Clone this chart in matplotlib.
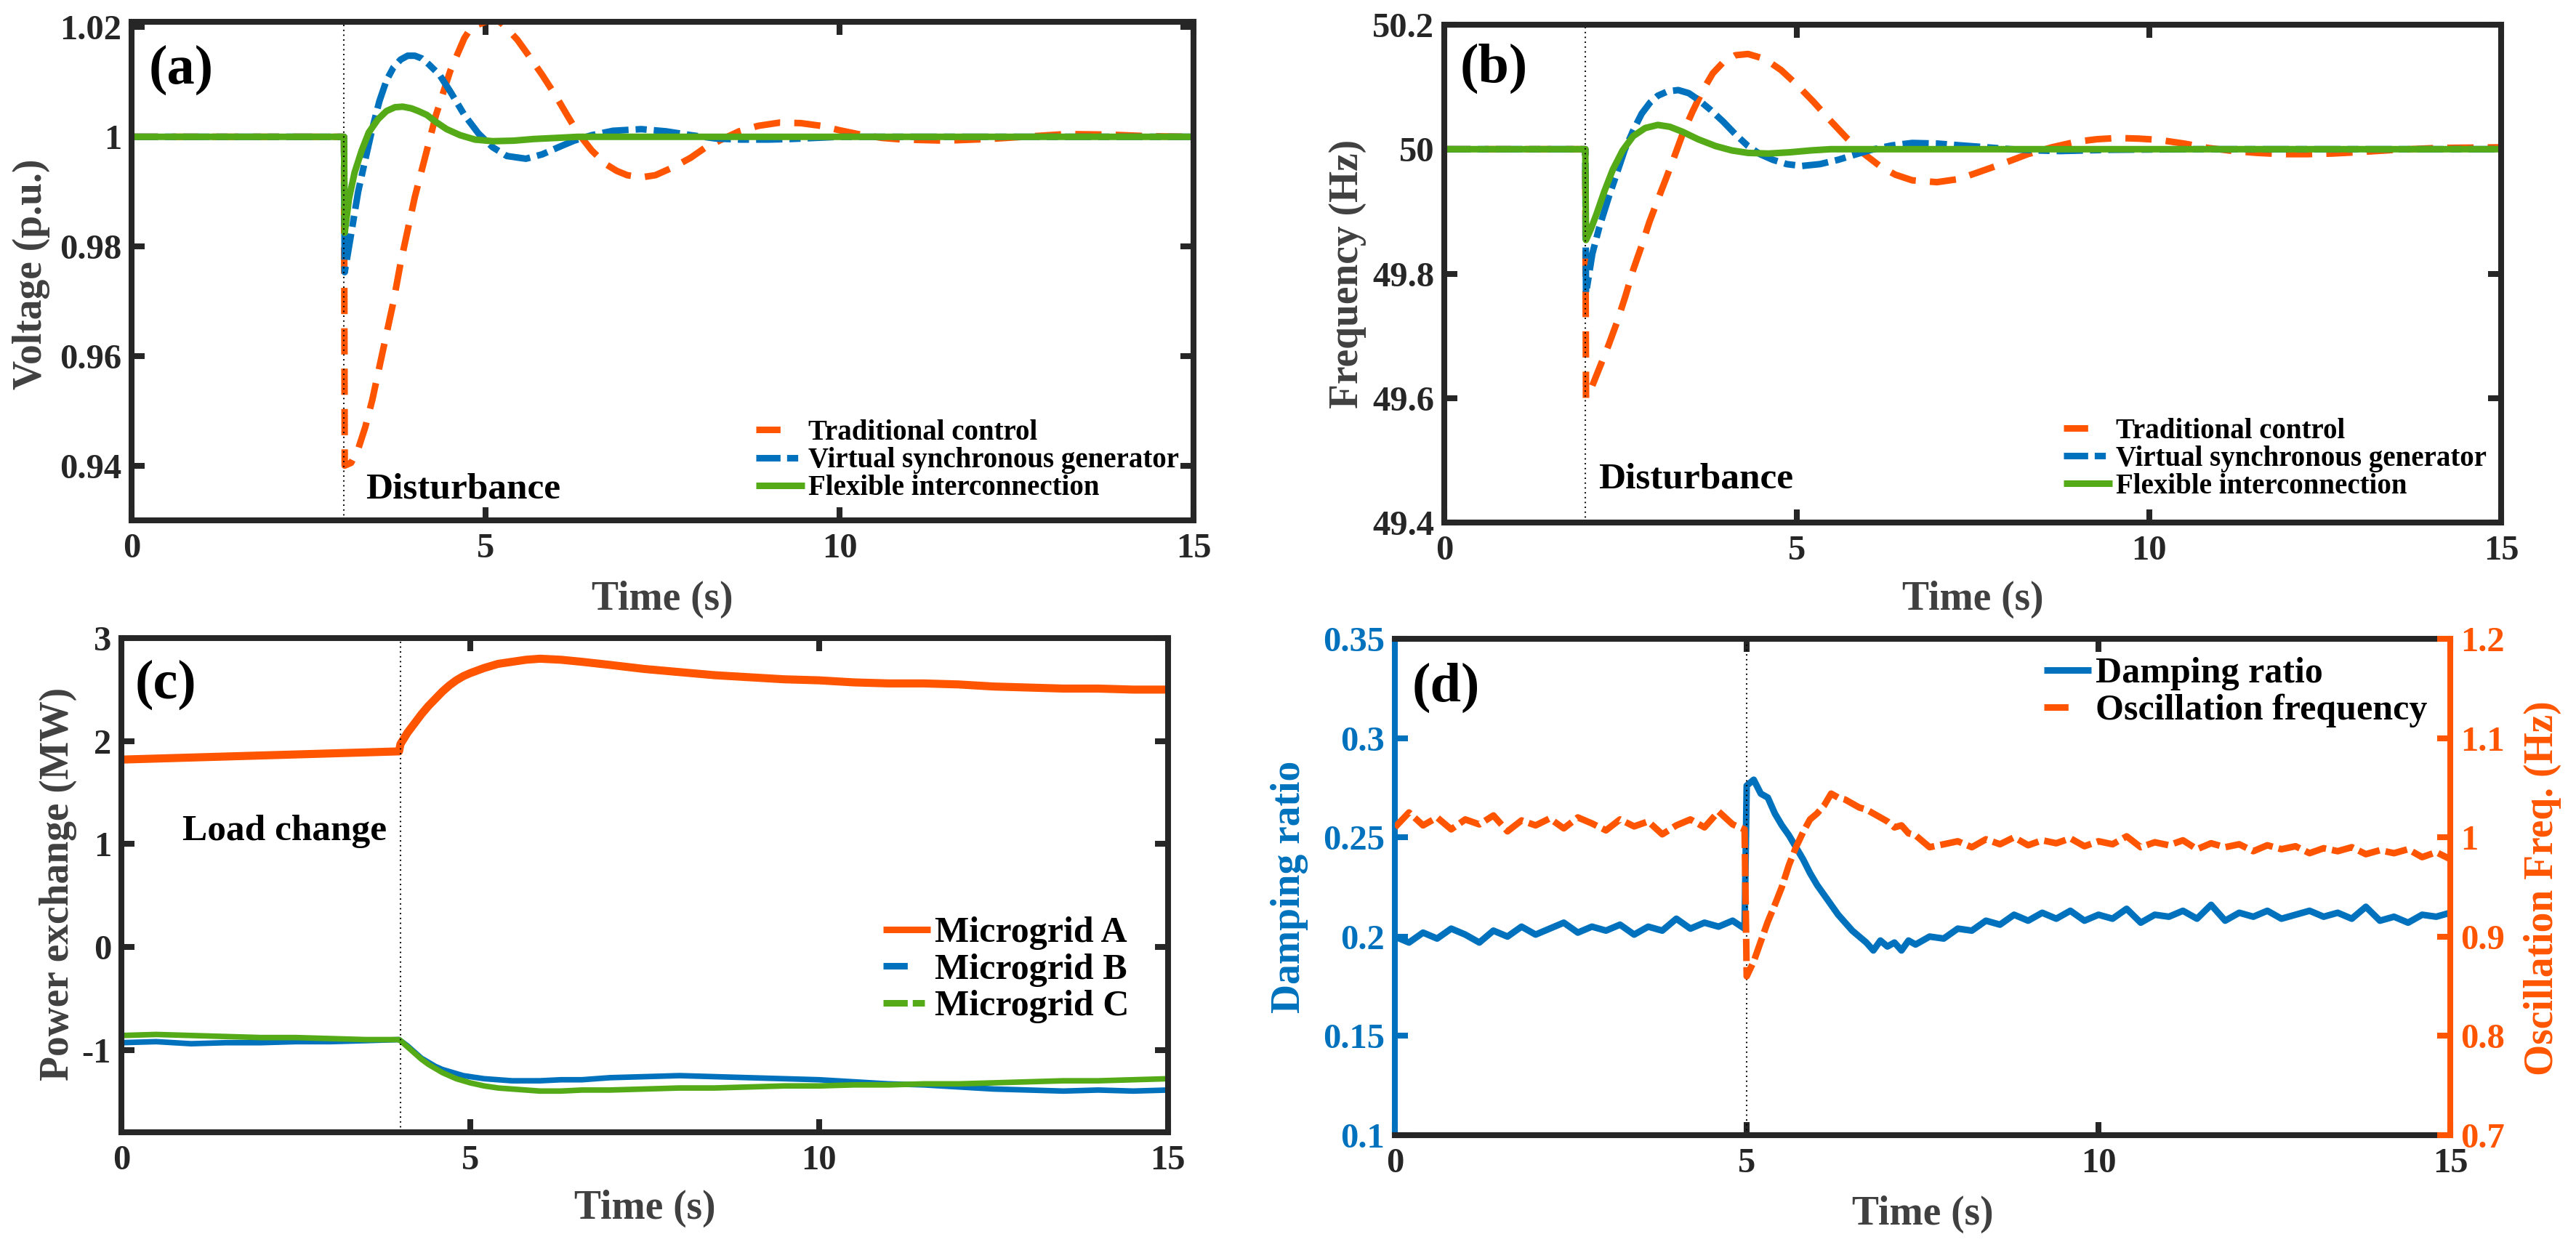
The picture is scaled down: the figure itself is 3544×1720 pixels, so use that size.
import matplotlib
matplotlib.use("Agg")
import matplotlib.pyplot as plt
from matplotlib.lines import Line2D
from matplotlib.ticker import FuncFormatter

plt.rcParams['font.family'] = 'serif'
plt.rcParams['font.serif'] = ['Liberation Serif']
plt.rcParams['font.weight'] = 'bold'
plt.rcParams['axes.labelweight'] = 'bold'
plt.rcParams['lines.scale_dashes'] = False
plt.rcParams['lines.solid_capstyle'] = 'butt'

ORANGE = '#FF5500'
BLUE = '#0072BD'
GREEN = '#55AA18'
INK = '#262626'
LAB = '#404040'

# ---- (a) voltage, disturbance at t = 3 s
t_a_trad = [0, 3.0, 3.01, 3.1, 3.2, 3.3, 3.4, 3.5, 3.6, 3.7, 3.8, 3.9, 4.0,
            4.1, 4.2, 4.3, 4.4, 4.5, 4.6, 4.7, 4.8, 4.9, 5.0, 5.1, 5.2, 5.3,
            5.45, 5.6, 5.8, 6.0, 6.15, 6.3, 6.5, 6.7, 6.85, 7.0, 7.2, 7.4, 7.66,
            7.9, 8.1, 8.35, 8.58, 8.85, 9.16, 9.45, 9.74, 10.0,
            10.3, 10.6, 10.9, 11.5, 12.1, 12.6, 13.2, 13.8, 14.4, 15.0]
v_a_trad = [1.0, 1.0, 0.940, 0.9405, 0.943, 0.947, 0.952, 0.958, 0.964, 0.970, 0.977, 0.983, 0.989,
            0.994, 0.999, 1.004, 1.008, 1.012, 1.015, 1.018, 1.020, 1.0205, 1.021, 1.0212, 1.021, 1.0198,
            1.0177, 1.015, 1.0113, 1.0073, 1.004, 1.0008, 0.9975, 0.995, 0.9938, 0.993, 0.9926, 0.993, 0.9945,
            0.9962, 0.998, 0.9996, 1.001, 1.002, 1.0026, 1.0025, 1.002, 1.0012,
            1.0004, 0.9998, 0.9995, 0.9993, 0.9996, 1.0, 1.0005, 1.0004, 1.0001, 1.0]
t_a_vsg = [0, 3.0, 3.01, 3.1, 3.2, 3.3, 3.4, 3.5, 3.6, 3.7, 3.8, 3.9, 4.0,
           4.1, 4.2, 4.35, 4.5, 4.7, 4.9, 5.1, 5.3, 5.57, 5.8, 6.03, 6.25, 6.5,
           6.8, 7.2, 7.55, 7.9, 8.25, 8.6, 9.0, 9.3, 10.0, 15.0]
v_a_vsg = [1.0, 1.0, 0.9753, 0.9822, 0.990, 0.9958, 1.0015, 1.0065, 1.0103, 1.0127, 1.0141, 1.0148, 1.0148,
           1.0143, 1.0132, 1.0113, 1.0083, 1.004, 1.0006, 0.9981, 0.9965, 0.996, 0.9968, 0.9981, 0.9993, 1.0003,
           1.0011, 1.0014, 1.001, 1.0003, 0.9997, 0.9995, 0.9995, 0.9996, 1.0, 1.0]
t_a_flex = [0, 3.0, 3.01, 3.07, 3.15, 3.25, 3.35, 3.48, 3.6, 3.72, 3.83, 3.95,
            4.05, 4.17, 4.3, 4.45, 4.64, 4.85, 5.1, 5.4, 5.68, 6.0, 6.3, 15.0]
v_a_flex = [1.0, 1.0, 0.9825, 0.9887, 0.9935, 0.9975, 1.0008, 1.0032, 1.0047, 1.0054, 1.0055, 1.0052,
            1.0047, 1.004, 1.0027, 1.0014, 1.0003, 0.9995, 0.9992, 0.9993, 0.9996, 0.9998, 1.0, 1.0]

# ---- (b) frequency, disturbance at t = 2 s
t_b_trad = [0, 2.0, 2.01, 2.1, 2.21, 2.33, 2.45, 2.57, 2.68, 2.8, 2.91, 3.03, 3.15,
            3.27, 3.38, 3.52, 3.67, 3.81, 3.96, 4.13, 4.31, 4.55, 4.78,
            5.0, 5.24, 5.47, 5.71, 5.95, 6.18, 6.4, 6.64, 6.99, 7.3,
            7.58, 7.93, 8.28, 8.62, 8.97, 9.26, 9.56, 9.85, 10.14, 10.5,
            10.84, 11.2, 11.54, 11.9, 12.24, 12.6, 12.94, 13.5, 14.1, 15.0]
v_b_trad = [50.0, 50.0, 49.600, 49.62, 49.651, 49.685, 49.722, 49.764, 49.806, 49.845, 49.883, 49.919, 49.954,
            49.99, 50.024, 50.06, 50.095, 50.122, 50.14, 50.151, 50.153, 50.145, 50.127,
            50.104, 50.076, 50.047, 50.018, 49.993, 49.973, 49.959, 49.950, 49.947, 49.952,
            49.963, 49.977, 49.992, 50.003, 50.012, 50.016, 50.018, 50.017, 50.015, 50.009,
            50.002, 49.997, 49.994, 49.992, 49.992, 49.993, 49.995, 49.999, 50.002, 50.003]
t_b_vsg = [0, 2.0, 2.01, 2.1, 2.2, 2.33, 2.45, 2.56, 2.68, 2.8, 2.92, 3.03, 3.17,
           3.32, 3.47, 3.61, 3.78, 3.96, 4.13, 4.31, 4.48, 4.66, 4.86,
           5.07, 5.33, 5.59, 5.82, 6.06, 6.35, 6.64, 7.0, 7.34, 7.7,
           8.04, 8.4, 8.74, 9.44, 10.6, 15.0]
v_b_vsg = [50.0, 50.0, 49.768, 49.832, 49.875, 49.922, 49.962, 49.999, 50.030, 50.057, 50.075, 50.086, 50.093,
           50.095, 50.09, 50.079, 50.063, 50.044, 50.024, 50.005, 49.992, 49.983, 49.976,
           49.973, 49.976, 49.983, 49.991, 49.999, 50.006, 50.010, 50.009, 50.006, 50.003,
           50.0, 49.998, 49.997, 49.999, 50.0, 50.0]
t_b_flex = [0, 2.0, 2.01, 2.08, 2.16, 2.27, 2.39, 2.53, 2.68, 2.85, 3.03,
            3.2, 3.38, 3.6, 3.85, 4.08, 4.31, 4.6, 4.9, 5.2, 5.48, 15.0]
v_b_flex = [50.0, 50.0, 49.854, 49.872, 49.896, 49.932, 49.967, 49.998, 50.021, 50.034, 50.039,
            50.036, 50.028, 50.016, 50.005, 49.998, 49.994, 49.993, 49.995, 49.998, 50.0, 50.0]

# ---- (c) power exchange, load change at t = 4 s
t_c = [0, 0.5, 1, 1.5, 2, 2.5, 3, 3.5, 3.98, 4.0, 4.1, 4.2, 4.3, 4.4, 4.5, 4.6, 4.7, 4.8, 4.9, 5.0,
       5.2, 5.4, 5.6, 5.8, 6.0, 6.3, 6.6, 7.0, 7.5, 8.0, 8.5, 9.0, 9.5, 10, 10.5, 11, 11.5, 12,
       12.5, 13, 13.5, 14, 14.5, 15]
p_mg_a = [1.82, 1.83, 1.84, 1.85, 1.86, 1.87, 1.88, 1.89, 1.90, 1.97, 2.08, 2.17, 2.26, 2.34, 2.41, 2.48,
          2.54, 2.59, 2.63, 2.66, 2.71, 2.75, 2.77, 2.79, 2.80, 2.79, 2.77, 2.74, 2.70, 2.67, 2.64, 2.62,
          2.60, 2.59, 2.57, 2.56, 2.56, 2.55, 2.53, 2.52, 2.51, 2.51, 2.50, 2.50]
p_mg_b = [-0.93, -0.92, -0.94, -0.93, -0.93, -0.92, -0.92, -0.91, -0.90, -0.91, -0.96, -1.02, -1.08, -1.12,
          -1.16, -1.19, -1.21, -1.23, -1.25, -1.26, -1.28, -1.29, -1.30, -1.30, -1.30, -1.29, -1.29, -1.27,
          -1.26, -1.25, -1.26, -1.27, -1.28, -1.29, -1.31, -1.33, -1.34, -1.36, -1.38, -1.39, -1.40, -1.39,
          -1.40, -1.39]
p_mg_c = [-0.86, -0.85, -0.86, -0.87, -0.88, -0.88, -0.89, -0.90, -0.90, -0.91, -0.97, -1.03, -1.09, -1.14,
          -1.18, -1.22, -1.25, -1.28, -1.30, -1.32, -1.35, -1.37, -1.38, -1.39, -1.40, -1.40, -1.39, -1.39,
          -1.38, -1.37, -1.37, -1.36, -1.35, -1.35, -1.34, -1.34, -1.33, -1.33, -1.32, -1.31, -1.30, -1.30,
          -1.29, -1.28]

# ---- (d) damping ratio / oscillation frequency, event at t = 5 s
t_d = [0.0, 0.2, 0.4, 0.6, 0.8, 1.0, 1.2, 1.4, 1.6, 1.8, 2.0, 2.2, 2.4, 2.6, 2.8, 3.0, 3.2, 3.4, 3.6,
       3.8, 4.0, 4.2, 4.4, 4.6, 4.8, 4.97,
       5.0, 5.1, 5.2, 5.3, 5.4, 5.5, 5.6, 5.7, 5.8, 5.9, 6.0, 6.1, 6.2, 6.3, 6.4, 6.5, 6.6, 6.7, 6.8,
       6.9, 7.0, 7.1, 7.2, 7.3, 7.4, 7.6, 7.8,
       8.0, 8.2, 8.4, 8.6, 8.8, 9.0, 9.2, 9.4, 9.6, 9.8, 10.0, 10.2, 10.4, 10.6, 10.8, 11.0, 11.2, 11.4,
       11.6, 11.8, 12.0, 12.2, 12.4, 12.6, 12.8, 13.0, 13.2, 13.4, 13.6, 13.8, 14.0, 14.2, 14.4, 14.6,
       14.8, 15.0]
damping = [0.200, 0.197, 0.202, 0.199, 0.204, 0.201, 0.197, 0.203, 0.200, 0.205, 0.201, 0.204, 0.207,
           0.202, 0.205, 0.203, 0.206, 0.201, 0.205, 0.203, 0.209, 0.204, 0.207, 0.205, 0.208, 0.204,
           0.276, 0.279, 0.272, 0.270, 0.262, 0.256, 0.251, 0.245, 0.239, 0.232, 0.226, 0.221, 0.216,
           0.211, 0.207, 0.203, 0.200, 0.197, 0.193, 0.198, 0.195, 0.197, 0.193, 0.198, 0.196, 0.200, 0.199,
           0.204, 0.203, 0.208, 0.206, 0.211, 0.208, 0.212, 0.209, 0.213, 0.208, 0.211, 0.209, 0.214,
           0.207, 0.211, 0.210, 0.213, 0.209, 0.216, 0.208, 0.212, 0.210, 0.213, 0.209, 0.211, 0.213,
           0.210, 0.212, 0.209, 0.215, 0.208, 0.210, 0.207, 0.211, 0.210, 0.212]
osc_freq = [1.010, 1.025, 1.012, 1.020, 1.008, 1.018, 1.013, 1.022, 1.006, 1.017, 1.012, 1.019, 1.009,
            1.020, 1.014, 1.007, 1.018, 1.011, 1.016, 1.003, 1.012, 1.018, 1.010, 1.026, 1.013, 1.008,
            0.860, 0.875, 0.895, 0.915, 0.932, 0.950, 0.972, 0.990, 1.005, 1.018, 1.024, 1.032, 1.044,
            1.040, 1.038, 1.034, 1.030, 1.028, 1.024, 1.020, 1.016, 1.010, 1.012, 1.004, 1.002, 0.990, 0.993,
            0.996, 0.990, 0.998, 0.993, 1.000, 0.992, 0.997, 0.994, 0.999, 0.991, 0.996, 0.993, 1.001,
            0.990, 0.995, 0.992, 0.997, 0.988, 0.994, 0.990, 0.993, 0.986, 0.992, 0.988, 0.991, 0.984,
            0.989, 0.986, 0.990, 0.983, 0.987, 0.984, 0.988, 0.980, 0.985, 0.978]

LW = 6.5
DASH = (26, 14)
DASHDOT = (26, 7, 11, 7)
fmt = FuncFormatter(lambda v, p: f"{v:g}")


def style(ax, yticks, ylim):
    for s in ax.spines.values():
        s.set_linewidth(5.8)
        s.set_color(INK)
    ax.tick_params(direction='in', length=13, width=5.8, top=True, right=True,
                   labelsize=35, colors=INK, pad=10)
    ax.tick_params(axis='x', pad=12)
    ax.set_xlim(0, 15)
    ax.set_xticks([0, 5, 10, 15])
    ax.set_ylim(*ylim)
    ax.set_yticks(yticks)
    ax.xaxis.set_major_formatter(fmt)
    ax.yaxis.set_major_formatter(fmt)
    ax.set_xlabel('Time (s)', fontsize=40, color=LAB)


def legend(ax, handles, labels, x, y, fs, hl, ls):
    ax.legend(handles, labels, loc='center left', bbox_to_anchor=(x, y), frameon=False,
              fontsize=fs, handlelength=hl, handletextpad=0.12, labelspacing=ls,
              borderpad=0, borderaxespad=0)


def proxy(color, dashes=None):
    h = Line2D([], [], color=color, lw=LW)
    if dashes is not None:
        h.set_dashes(dashes)
    return h


fig = plt.figure(figsize=(35.44, 17.2), dpi=100)
ax_a = fig.add_axes([0.0511, 0.5837, 0.4122, 0.3989])
ax_b = fig.add_axes([0.5607, 0.5820, 0.4103, 0.3982])
ax_c = fig.add_axes([0.0471, 0.0942, 0.4063, 0.3953])
ax_d = fig.add_axes([0.5415, 0.0919, 0.4097, 0.3971])

leg_abc = ['Traditional control', 'Virtual synchronous generator', 'Flexible interconnection']

# (a)
ax_a.plot(t_a_trad, v_a_trad, color=ORANGE, lw=LW, dashes=DASH)
ax_a.plot(t_a_vsg, v_a_vsg, color=BLUE, lw=LW, dashes=DASHDOT)
ax_a.plot(t_a_flex, v_a_flex, color=GREEN, lw=LW)
ax_a.axvline(3, color='k', lw=1.5, ls=(0, (1.3, 3.5)))
style(ax_a, [0.94, 0.96, 0.98, 1.0, 1.02], (0.93, 1.021))
ax_a.set_ylabel('Voltage (p.u.)', fontsize=40, color=LAB)
ax_a.yaxis.set_label_coords(-0.077, 0.494)
ax_a.xaxis.set_label_coords(0.5, -0.121)
ax_a.text(3.31, 0.044, 'Disturbance', transform=ax_a.get_xaxis_transform(),
          fontsize=37, va='baseline')
ax_a.text(0.016, 0.953, '(a)', transform=ax_a.transAxes, fontsize=55, ha='left', va='top')
legend(ax_a, [proxy(ORANGE, (24, 40)), proxy(BLUE, (24, 6.5, 11, 40)), proxy(GREEN)],
       leg_abc, 0.588, 0.12, 28, 1.72, 0.03)

# (b)
ax_b.plot(t_b_trad, v_b_trad, color=ORANGE, lw=LW, dashes=DASH)
ax_b.plot(t_b_vsg, v_b_vsg, color=BLUE, lw=LW, dashes=DASHDOT)
ax_b.plot(t_b_flex, v_b_flex, color=GREEN, lw=LW)
ax_b.axvline(2, color='k', lw=1.5, ls=(0, (1.3, 3.5)))
style(ax_b, [49.4, 49.6, 49.8, 50.0, 50.2], (49.4, 50.2))
ax_b.set_ylabel('Frequency (Hz)', fontsize=40, color=LAB)
ax_b.yaxis.set_label_coords(-0.074, 0.499)
ax_b.xaxis.set_label_coords(0.5, -0.117)
ax_b.text(2.19, 0.069, 'Disturbance', transform=ax_b.get_xaxis_transform(),
          fontsize=37, va='baseline')
ax_b.text(0.015, 0.962, '(b)', transform=ax_b.transAxes, fontsize=55, ha='left', va='top')
legend(ax_b, [proxy(ORANGE, (24, 40)), proxy(BLUE, (24, 6.5, 11, 40)), proxy(GREEN)],
       leg_abc, 0.586, 0.128, 28, 1.72, 0.03)

# (c)
ax_c.plot(t_c, p_mg_a, color=ORANGE, lw=8)
ax_c.plot(t_c, p_mg_b, color=BLUE, lw=5.5)
ax_c.plot(t_c, p_mg_c, color=GREEN, lw=5.5)
ax_c.axvline(4, color='k', lw=1.5, ls=(0, (1.3, 3.5)))
style(ax_c, [-1, 0, 1, 2, 3], (-1.8, 3.0))
ax_c.set_ylabel('Power exchange (MW)', fontsize=40, color=LAB)
ax_c.yaxis.set_label_coords(-0.042, 0.503)
ax_c.xaxis.set_label_coords(0.5, -0.116)
ax_c.text(0.875, 0.591, 'Load change', transform=ax_c.get_xaxis_transform(),
          fontsize=37, va='baseline')
ax_c.text(0.013, 0.957, '(c)', transform=ax_c.transAxes, fontsize=55, ha='left', va='top')
legend(ax_c, [proxy(ORANGE), proxy(BLUE, (24, 40)), proxy(GREEN, (24, 5, 12, 40))],
       ['Microgrid A', 'Microgrid B', 'Microgrid C'], 0.728, 0.328, 36, 1.3, 0.09)

# (d)
ax_d2 = ax_d.twinx()
ax_d.plot(t_d, damping, color=BLUE, lw=LW)
ax_d2.plot(t_d, osc_freq, color=ORANGE, lw=LW, dashes=(22, 6))
ax_d.axvline(5, color='k', lw=1.5, ls=(0, (1.3, 3.5)))
style(ax_d, [0.1, 0.15, 0.2, 0.25, 0.3, 0.35], (0.1, 0.35))
ax_d.tick_params(axis='y', colors=BLUE, right=False)
ax_d.spines['left'].set_color(BLUE)
ax_d.spines['right'].set_visible(False)
ax_d2.set_ylim(0.7, 1.2)
ax_d2.set_yticks([0.7, 0.8, 0.9, 1.0, 1.1, 1.2])
ax_d2.yaxis.set_major_formatter(fmt)
ax_d2.tick_params(axis='y', direction='in', length=13, width=5.8, labelsize=35,
                  colors=ORANGE, pad=10)
for name in ['left', 'top', 'bottom']:
    ax_d2.spines[name].set_visible(False)
ax_d2.spines['right'].set_color(ORANGE)
ax_d2.spines['right'].set_linewidth(5.8)
ax_d.set_ylabel('Damping ratio', fontsize=40, color=BLUE)
ax_d.yaxis.set_label_coords(-0.082, 0.50)
ax_d2.set_ylabel('Oscillation Freq. (Hz)', fontsize=40, color=ORANGE, rotation=90)
ax_d2.yaxis.set_label_coords(1.0696, 0.497)
ax_d.xaxis.set_label_coords(0.5, -0.1215)
ax_d.text(0.016, 0.952, '(d)', transform=ax_d.transAxes, fontsize=55, ha='left', va='top')
legend(ax_d2, [proxy(BLUE), proxy(ORANGE, (24, 40))],
       ['Damping ratio', 'Oscillation frequency'], 0.615, 0.892, 36, 1.3, 0.09)

fig.savefig('out.png', dpi=100)
